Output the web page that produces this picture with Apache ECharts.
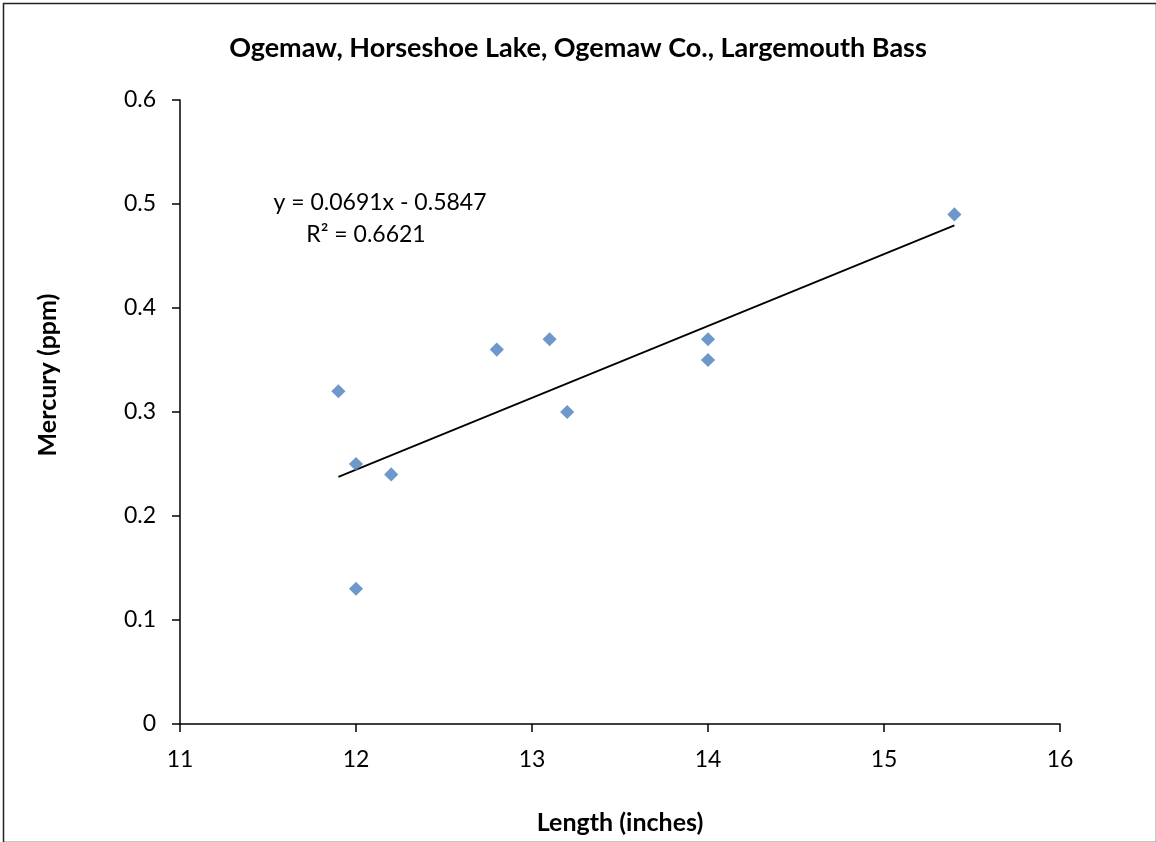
<!DOCTYPE html>
<html>
<head>
<meta charset="utf-8">
<script src="https://cdn.jsdelivr.net/npm/echarts@6/dist/echarts.min.js"></script>
<style>
html,body{margin:0;padding:0;background:#fff;}
#chart{width:1156px;height:842px;}
</style>
</head>
<body>
<div id="chart"></div>
<script>
const lengths = [11.9, 12.0, 12.0, 12.2, 12.8, 13.1, 13.2, 14.0, 14.0, 15.4];
const mercury = [0.32, 0.25, 0.13, 0.24, 0.36, 0.37, 0.30, 0.37, 0.35, 0.49];
const trendSlope = 0.0691;
const trendIntercept = -0.5847;
const trendRange = [11.9, 15.4];
const equationLines = ['y = 0.0691x - 0.5847', 'R² = 0.6621'];
const xTicks = [11, 12, 13, 14, 15, 16];
const yTicks = [0, 0.1, 0.2, 0.3, 0.4, 0.5, 0.6];

const FONT = 'Lato, "Open Sans", sans-serif';
const chart = echarts.init(document.getElementById('chart'));
const points = lengths.map((x, i) => [x, mercury[i]]);
const trend = trendRange.map(x => [x, trendSlope * x + trendIntercept]);

chart.setOption({
  animation: false,
  backgroundColor: '#fff',
  title: {
    text: 'Ogemaw, Horseshoe Lake, Ogemaw Co., Largemouth Bass',
    left: 'center', top: 30,
    textStyle: {fontFamily: FONT, fontSize: 27, fontWeight: 'bold', color: '#000'}
  },
  grid: {left: 180, right: 96, top: 100, bottom: 118},
  xAxis: {
    type: 'value', min: xTicks[0], max: xTicks[xTicks.length - 1], interval: 1,
    name: 'Length (inches)', nameLocation: 'middle', nameGap: 86,
    nameTextStyle: {fontFamily: FONT, fontSize: 25, fontWeight: 'bold', color: '#000'},
    axisLine: {lineStyle: {color: '#000', width: 1.5}},
    axisTick: {show: true, inside: false, length: 8, lineStyle: {color: '#000', width: 1.5}},
    axisLabel: {fontFamily: FONT, fontSize: 23, color: '#000', margin: 24},
    splitLine: {show: false}
  },
  yAxis: {
    type: 'value', min: yTicks[0], max: yTicks[yTicks.length - 1], interval: 0.1,
    axisLine: {show: true, lineStyle: {color: '#000', width: 1.5}},
    axisTick: {show: true, inside: false, length: 8, lineStyle: {color: '#000', width: 1.5}},
    axisLabel: {fontFamily: FONT, fontSize: 23, color: '#000', margin: 24,
      formatter: v => String(Math.round(v * 10) / 10)},
    splitLine: {show: false}
  },
  graphic: [
    {type: 'rect', left: 1, top: 1, shape: {width: 1153, height: 839},
     style: {fill: 'none', stroke: '#222', lineWidth: 1.5}, silent: true, z: -1},
    {type: 'text', x: 48, y: 375, rotation: Math.PI / 2,
     style: {text: 'Mercury (ppm)', fontFamily: FONT, fontSize: 25, fontWeight: 'bold',
       fill: '#000', align: 'center', verticalAlign: 'middle'}},
    {type: 'text', x: 380, y: 203,
     style: {text: equationLines[0], fontFamily: FONT, fontSize: 23, fill: '#000',
       align: 'center', verticalAlign: 'middle'}},
    {type: 'text', x: 366, y: 235,
     style: {text: equationLines[1], fontFamily: FONT, fontSize: 23, fill: '#000',
       align: 'center', verticalAlign: 'middle'}}
  ],
  series: [
    {type: 'line', data: trend, symbol: 'none', silent: true,
     lineStyle: {color: '#000', width: 1.7}, z: 1},
    {type: 'scatter', data: points, symbol: 'rect', symbolRotate: 45, symbolSize: 10,
     itemStyle: {color: '#4a7ebb'}, z: 2}
  ]
});
</script>
</body>
</html>
